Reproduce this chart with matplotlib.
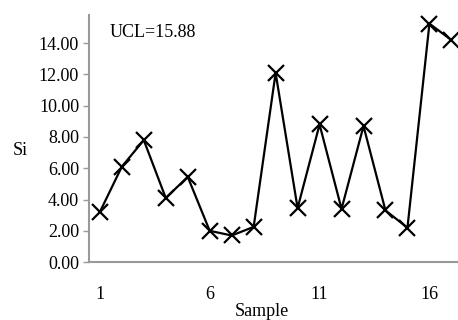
import matplotlib.pyplot as plt

samples = list(range(1, 18))
si = [3.2, 6.1, 7.8, 4.1, 5.45, 2.0, 1.7, 2.25, 12.1, 3.45, 8.8, 3.4, 8.7, 3.3, 2.2, 15.25, 14.2]
ucl = 15.88
x_ticks = [1, 6, 11, 16]
y_ticks = [0, 2, 4, 6, 8, 10, 12, 14]

plt.rcParams['font.family'] = ['Liberation Serif', 'DejaVu Serif']

fig = plt.figure(figsize=(4.58, 3.2), dpi=100)
ax = fig.add_axes([0.194, 0.181, 0.806, 0.772])

ax.plot(samples, si, color='black', linewidth=1.6, marker='x',
        markersize=12, markeredgewidth=1.6)

ax.set_xlim(0.5, 17.3)
ax.set_ylim(0, 15.8)
ax.set_xticks(x_ticks)
ax.set_yticks(y_ticks)
ax.set_yticklabels([f"{v:.2f}" for v in y_ticks])
ax.tick_params(axis='x', length=0, pad=17, labelsize=13)
ax.tick_params(axis='y', length=4, width=1, color='#999999', labelsize=13, pad=3)

for s in ['top', 'right']:
    ax.spines[s].set_visible(False)
for s in ['left', 'bottom']:
    ax.spines[s].set_color('#999999')
    ax.spines[s].set_linewidth(1.5)

ax.text(1.45, 14.7, f"UCL={ucl:.2f}", fontsize=13, va='center')
ax.set_xlabel("Sample", fontsize=13)
ax.set_ylabel("Si", fontsize=13, rotation=0)
ax.yaxis.set_label_coords(-0.187, 0.453)
ax.xaxis.set_label_coords(0.469, -0.20)
ax.xaxis.label.set_va('center')
ax.yaxis.label.set_va('center')

fig.savefig("out.png", dpi=100)
